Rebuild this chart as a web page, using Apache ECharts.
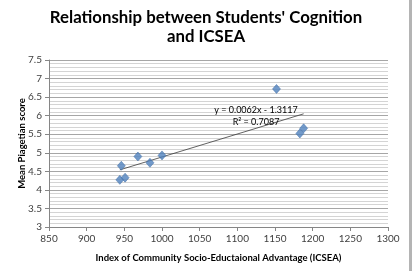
<!DOCTYPE html>
<html>
<head>
<meta charset="utf-8">
<script src="https://cdn.jsdelivr.net/npm/echarts@6/dist/echarts.min.js"></script>
<style>html,body{margin:0;padding:0;background:#fff}#c{width:412px;height:271px}</style>
</head>
<body>
<div id="c"></div>
<script>
// ICSEA (x) values
const icsea = [946, 944, 951, 968, 984, 1000, 1152, 1188, 1183];
// Mean Piagetian score (y) values
const piaget = [4.65, 4.27, 4.33, 4.90, 4.73, 4.93, 6.72, 5.66, 5.52];
// Trendline end points
const trendX = [944, 1188];
const trendY = [4.54, 6.05];
const equationText = 'y = 0.0062x - 1.3117';
const r2Text = 'R\u00b2 = 0.7087';
const titleText = "Relationship between Students' Cognition\nand ICSEA";
const xName = 'Index of Community Socio-Eductaional Advantage (ICSEA)';
const yName = 'Mean Piagetian score';

const FONT = 'Lato';
const chart = echarts.init(document.getElementById('c'), null, {renderer: 'canvas'});
const points = icsea.map((x, i) => [x, piaget[i]]);
const trend = trendX.map((x, i) => [x, trendY[i]]);

chart.setOption({
  animation: false,
  backgroundColor: '#fff',
  title: {
    text: titleText,
    left: 'center',
    top: 3,
    textStyle: {fontFamily: FONT, fontWeight: 'bold', fontSize: 16.8, lineHeight: 19, color: '#000'}
  },
  grid: {left: 49, right: 24, top: 60, bottom: 44, containLabel: false},
  xAxis: {
    type: 'value', min: 850, max: 1300, interval: 50,
    name: xName, nameLocation: 'middle', nameGap: 26, nameMoveOverlap: false,
    nameTextStyle: {fontFamily: FONT, fontWeight: 'bold', fontSize: 9.5, color: '#000'},
    axisLine: {show: true, lineStyle: {color: '#868686', width: 1}},
    axisTick: {show: true, inside: false, length: 4, lineStyle: {color: '#868686'}},
    axisLabel: {fontFamily: FONT, fontSize: 10, color: '#404040', margin: 7, formatter: v => String(v)},
    splitLine: {show: false}
  },
  yAxis: {
    type: 'value', min: 3, max: 7.5, interval: 0.5,
    name: yName, nameLocation: 'middle', nameGap: 22, nameRotate: 90, nameMoveOverlap: false,
    nameTextStyle: {fontFamily: FONT, fontWeight: 'bold', fontSize: 9.5, color: '#000'},
    axisLine: {show: true, lineStyle: {color: '#868686', width: 1}},
    axisTick: {show: true, inside: false, length: 4, lineStyle: {color: '#868686'}},
    axisLabel: {fontFamily: FONT, fontSize: 10, color: '#404040', margin: 7},
    splitLine: {show: true, lineStyle: {color: '#a6a6a6', width: 1}},
    minorTick: {show: false, splitNumber: 5},
    minorSplitLine: {show: true, lineStyle: {color: '#d4d4d4', width: 1}}
  },
  series: [
    {
      type: 'line', data: trend, symbol: 'none', silent: true,
      lineStyle: {color: '#3a3a3a', width: 0.8}, z: 2
    },
    {
      type: 'scatter', data: points, symbol: 'diamond', symbolSize: [8, 9],
      itemStyle: {color: '#4f81bd', borderColor: '#3a6aa3', borderWidth: 0.6}, z: 3
    }
  ],
  graphic: [
    {type: 'text', x: 256, y: 110, style: {text: equationText, font: '9px ' + FONT, fill: '#000', align: 'center', verticalAlign: 'middle'}, z: 10},
    {type: 'text', x: 256, y: 122, style: {text: r2Text, font: '9px ' + FONT, fill: '#000', align: 'center', verticalAlign: 'middle'}, z: 10},
    {type: 'rect', shape: {x: 409, y: 0, width: 3, height: 271}, style: {fill: '#b4b4b4'}, z: 10}
  ]
});
</script>
</body>
</html>
